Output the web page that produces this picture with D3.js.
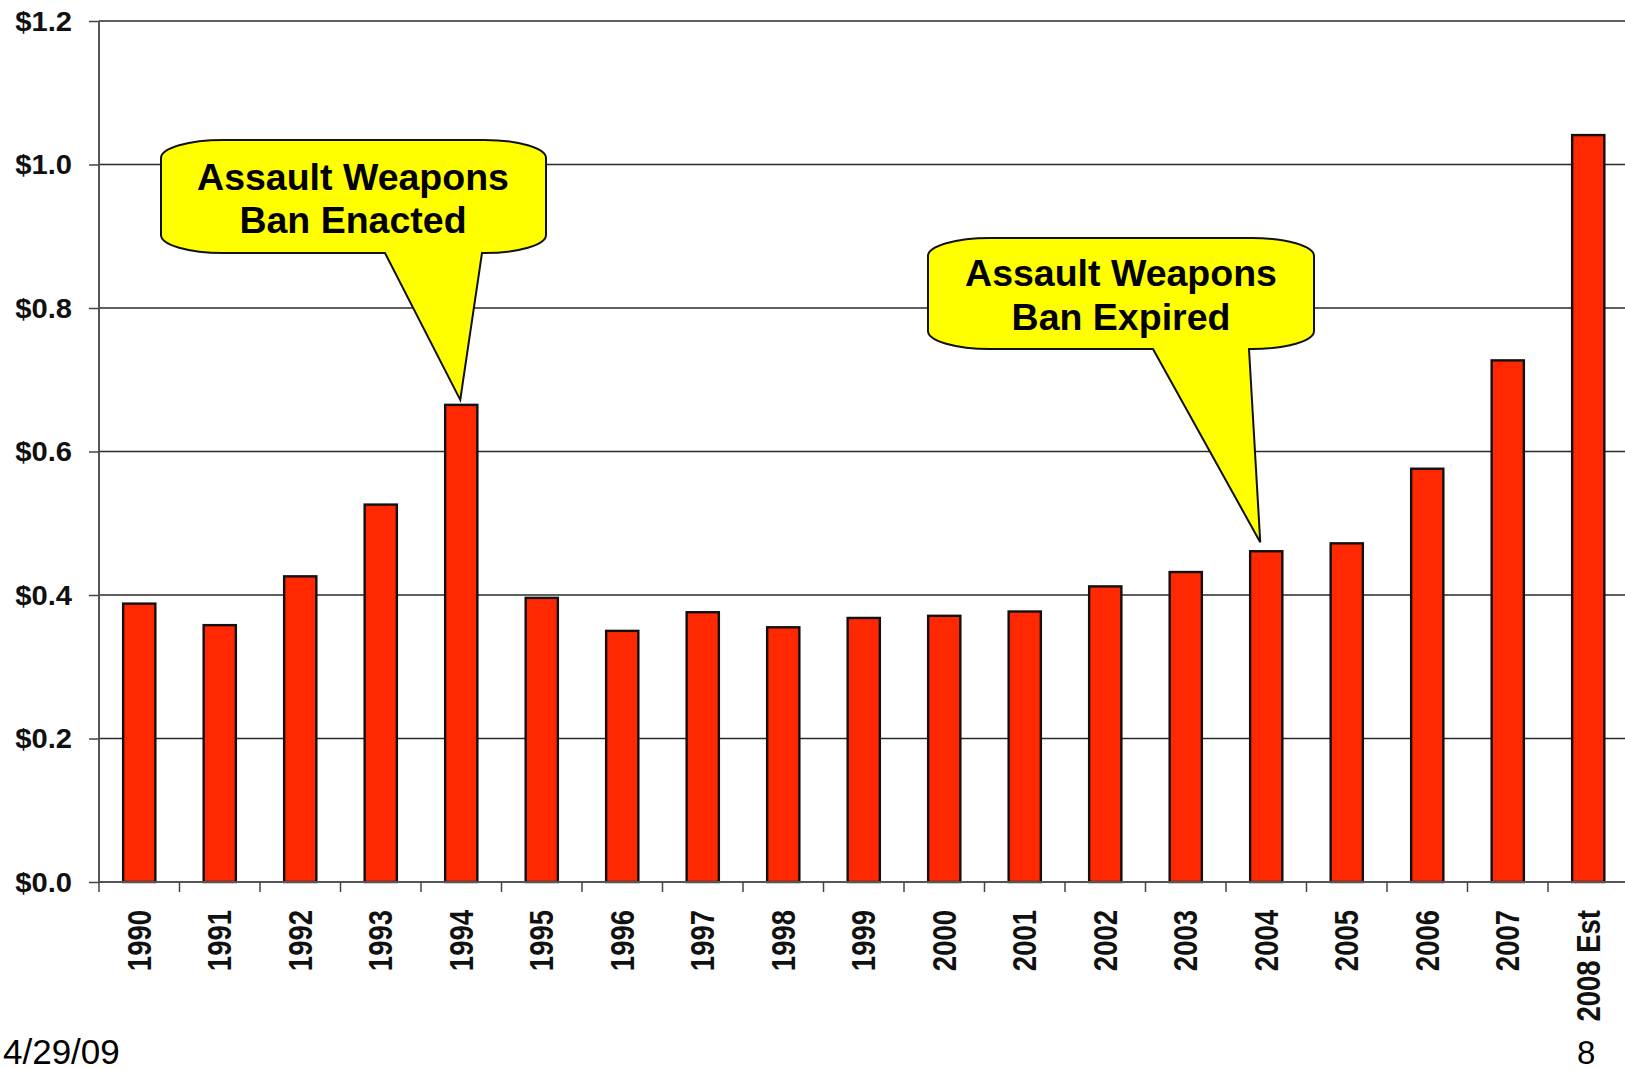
<!DOCTYPE html>
<html>
<head>
<meta charset="utf-8">
<script src="https://cdn.jsdelivr.net/npm/d3@7"></script>
<style>
  html, body { margin: 0; padding: 0; background: #fff; }
  svg { display: block; font-family: Arial, "Liberation Sans", sans-serif; }
</style>
</head>
<body>
<svg id="chart" width="1625" height="1069"></svg>
<script>
const years = ["1990","1991","1992","1993","1994","1995","1996","1997","1998","1999",
               "2000","2001","2002","2003","2004","2005","2006","2007","2008 Est"];
const values = [0.388,0.358,0.426,0.526,0.665,0.396,0.350,0.376,0.355,0.368,
                0.371,0.377,0.412,0.432,0.461,0.472,0.576,0.727,1.041];
const yTicks = [0, 0.2, 0.4, 0.6, 0.8, 1.0, 1.2];
const yTickLabels = ["$0.0","$0.2","$0.4","$0.6","$0.8","$1.0","$1.2"];
const callouts = [
  { year: "1994", lines: ["Assault Weapons", "Ban Enacted"] },
  { year: "2004", lines: ["Assault Weapons", "Ban Expired"] }
];
const footerDate = "4/29/09";
const pageNumber = "8";

const svg = d3.select("#chart");
const x = d3.scaleBand().domain(years).range([99, 1628.5]).paddingInner(0.6).paddingOuter(0.3);
const y = d3.scaleLinear().domain([0, 1.2]).range([882, 21]);

// gridlines
svg.append("g").selectAll("line").data(yTicks.filter(d => d > 0)).join("line")
  .attr("x1", 99).attr("x2", 1625)
  .attr("y1", d => y(d)).attr("y2", d => y(d))
  .attr("stroke", "#2a2a2a").attr("stroke-width", 1.4);

// y axis
const yAxis = svg.append("g").attr("transform", "translate(99,0)")
  .call(d3.axisLeft(y).tickValues(yTicks).tickSize(10).tickFormat(""));
yAxis.select(".domain").attr("stroke", "#555").attr("stroke-width", 2).attr("d", `M0,${y(1.2)}V${y(0)}`);
yAxis.selectAll(".tick line").attr("stroke", "#444").attr("stroke-width", 1.5);

// y labels
svg.append("g").selectAll("text").data(yTicks).join("text")
  .attr("transform", d => `translate(72,${y(d) + 9.5}) scale(1.08,1)`)
  .attr("text-anchor", "end")
  .attr("font-size", 27).attr("font-weight", "bold").attr("fill", "#111")
  .text((d, i) => yTickLabels[i]);

// bars
svg.append("g").selectAll("rect").data(years).join("rect")
  .attr("x", d => x(d))
  .attr("width", x.bandwidth())
  .attr("y", (d, i) => y(values[i]))
  .attr("height", (d, i) => y(0) - y(values[i]))
  .attr("fill", "#ff2800")
  .attr("stroke", "#111").attr("stroke-width", 2.4);

// x axis
const step = x.step();
const x0 = 99;
const boundaries = d3.range(years.length + 1).map(i => x0 + i * step);
svg.append("line").attr("x1", 99).attr("x2", 1625).attr("y1", y(0)).attr("y2", y(0))
  .attr("stroke", "#555").attr("stroke-width", 2);
svg.append("g").selectAll("line").data(boundaries).join("line")
  .attr("x1", d => d).attr("x2", d => d)
  .attr("y1", y(0)).attr("y2", y(0) + 10)
  .attr("stroke", "#444").attr("stroke-width", 1.5);

// x labels
svg.append("g").selectAll("text").data(years).join("text")
  .attr("transform", d => `translate(${x(d) + x.bandwidth() / 2},910) scale(1.18,1) rotate(-90)`)
  .attr("text-anchor", "end")
  .attr("dy", "0.36em")
  .attr("font-size", 27.5).attr("font-weight", "bold").attr("fill", "#111")
  .text(d => d);

// callouts
const boxes = [
  { bx0: 161, by0: 140, bx1: 546, by1: 253, b0: 385, b1: 482, tipDx: -1, tipDy: -5, tx: 353, l1: 190, l2: 233 },
  { bx0: 928, by0: 238, bx1: 1314, by1: 349, b0: 1153, b1: 1249, tipDx: -6, tipDy: -9, tx: 1121, l1: 286, l2: 330 }
];
function calloutPath(b, tipX, tipY) {
  const rx = 62, ry = 18;
  return `M${b.bx0 + rx},${b.by0}` +
    `L${b.bx1 - rx},${b.by0}` +
    `A${rx},${ry} 0 0 1 ${b.bx1},${b.by0 + ry}` +
    `L${b.bx1},${b.by1 - ry}` +
    `A${rx},${ry} 0 0 1 ${b.bx1 - rx},${b.by1}` +
    `L${b.b1},${b.by1}` +
    `L${tipX},${tipY}` +
    `L${b.b0},${b.by1}` +
    `L${b.bx0 + rx},${b.by1}` +
    `A${rx},${ry} 0 0 1 ${b.bx0},${b.by1 - ry}` +
    `L${b.bx0},${b.by0 + ry}` +
    `A${rx},${ry} 0 0 1 ${b.bx0 + rx},${b.by0}Z`;
}
callouts.forEach((c, i) => {
  const b = boxes[i];
  const idx = years.indexOf(c.year);
  const tipX = x(c.year) + x.bandwidth() / 2 + b.tipDx;
  const tipY = y(values[idx]) + b.tipDy;
  const g = svg.append("g");
  g.append("path").attr("d", calloutPath(b, tipX, tipY))
    .attr("fill", "#ffff00").attr("stroke", "#111").attr("stroke-width", 2);
  g.append("text").attr("x", b.tx).attr("y", b.l1).attr("text-anchor", "middle")
    .attr("font-size", 37.5).attr("font-weight", "bold").attr("fill", "#000").text(c.lines[0]);
  g.append("text").attr("x", b.tx).attr("y", b.l2).attr("text-anchor", "middle")
    .attr("font-size", 37.5).attr("font-weight", "bold").attr("fill", "#000").text(c.lines[1]);
});

// footer
svg.append("text").attr("x", 3).attr("y", 1064).attr("font-size", 35).attr("fill", "#000").text(footerDate);
svg.append("text").attr("x", 1577).attr("y", 1064).attr("font-size", 33).attr("fill", "#000").text(pageNumber);
</script>
</body>
</html>
